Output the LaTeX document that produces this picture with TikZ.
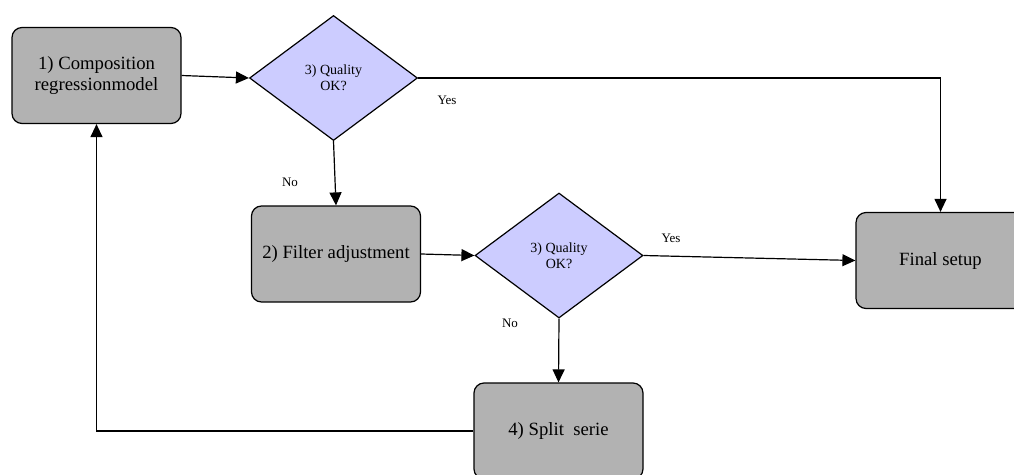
\documentclass[tikz,border=0pt]{standalone}
\usepackage{fontspec}
\setmainfont{Liberation Serif}
\usetikzlibrary{shapes.geometric,arrows.meta}
\definecolor{boxgray}{HTML}{B2B2B2}
\definecolor{lav}{HTML}{CCCCFF}
\begin{document}
\begin{tikzpicture}[x=1pt,y=-1pt,
  procbox/.style={draw=black,line width=1.2pt,fill=boxgray,rounded corners=10pt,
    minimum width=169pt,minimum height=96pt,inner sep=0pt,align=center,
    font=\fontsize{18.7}{21}\selectfont},
  decide/.style={draw=black,line width=1.2pt,fill=lav,diamond,
    minimum width=168pt,minimum height=125pt,inner sep=0pt,align=center,
    font=\fontsize{14}{16}\selectfont},
  lab/.style={font=\fontsize{13}{15}\selectfont,inner sep=0pt},
  arr/.style={line width=1.2pt,-{Triangle[length=13pt,width=12pt]}},
  conn/.style={line width=1.2pt}]
\clip (0,0) rectangle (1014,474);
\node[procbox] (b1) at (96.5,75.5) {1) Composition\\regressionmodel};
\node[decide] (d1) at (333.5,78) {3) Quality\\OK?};
\node[procbox] (b2) at (336,254) {2) Filter adjustment};
\node[decide] (d2) at (559,255.5) {3) Quality\\OK?};
\node[procbox] (fin) at (940.5,260.5) {Final setup};
\node[procbox] (b4) at (558.5,431) {4) Split\ \ serie};
\draw[arr] (b1.east) -- (d1.west);
\draw[arr] (d1.east) -| (fin.north);
\draw[arr] (d1.south) -- (b2.north);
\draw[arr] (b2.east) -- (d2.west);
\draw[arr] (d2.east) -- (fin.west);
\draw[arr] (d2.south) -- (b4.north);
\draw[arr] (b4.west) -| (b1.south);
\node[lab] (y1) at (447,100) {Yes};
\node[lab] (n1) at (290,182) {No};
\node[lab] (y2) at (671,238) {Yes};
\node[lab] (n2) at (510,323) {No};
\end{tikzpicture}
\end{document}
